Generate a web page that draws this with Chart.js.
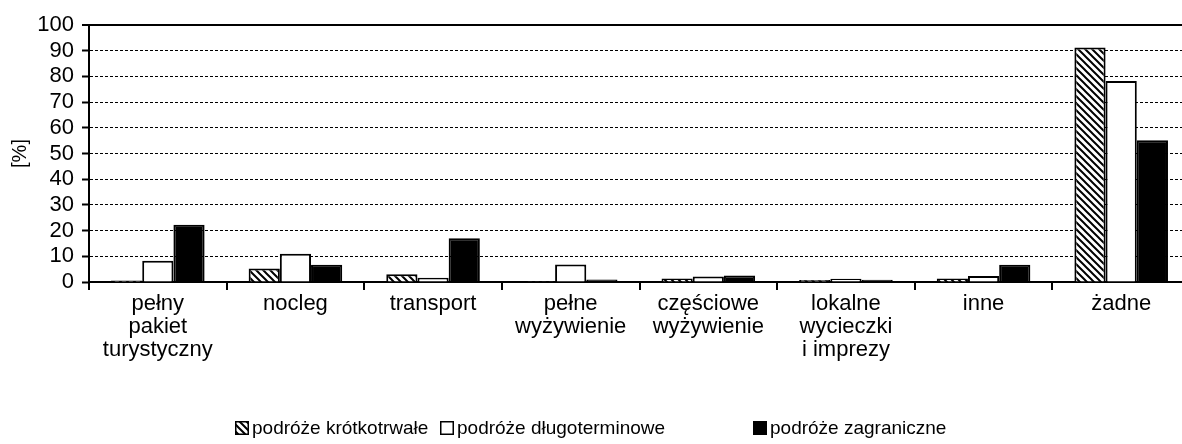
<!DOCTYPE html>
<html><head><meta charset="utf-8">
<script src="https://cdn.jsdelivr.net/npm/chart.js@4/dist/chart.umd.min.js"></script>
<style>
html,body{margin:0;padding:0;background:#fff;overflow:hidden;width:1182px;height:444px}
#wrap{width:1192px;height:444px;position:relative}
canvas{display:block}
</style></head>
<body><div id="wrap"><canvas id="c" width="1192" height="444"></canvas></div>
<script>
const categories = [["pełny","pakiet","turystyczny"],"nocleg","transport",["pełne","wyżywienie"],["częściowe","wyżywienie"],["lokalne","wycieczki","i imprezy"],"inne","żadne"];
const seriesNames = ["podróże krótkotrwałe","podróże długoterminowe","podróże zagraniczne"];
const shortTrips = [0.6, 5.3, 3.0, 0.3, 1.4, 0.8, 1.4, 91.2];
const longTrips = [8.3, 11.0, 1.7, 6.8, 2.1, 1.3, 2.3, 78.2];
const foreignTrips = [22.3, 6.7, 17.0, 1.0, 2.5, 0.9, 6.7, 55.2];
const yTickValues = [0,10,20,30,40,50,60,70,80,90,100];
const yTitle = "[%]";

const FONT = "'Liberation Sans', Arial, sans-serif";
const FS = 22;
const LFS = 19;

function hatchPattern(){
  const s = 7;
  const c = document.createElement('canvas'); c.width = s; c.height = s;
  const g = c.getContext('2d');
  g.fillStyle = '#fff'; g.fillRect(0,0,s,s);
  g.strokeStyle = '#000'; g.lineWidth = 2;
  g.beginPath();
  g.moveTo(-2,-2); g.lineTo(s+2,s+2);
  g.moveTo(-2,s-2); g.lineTo(2,s+2);
  g.moveTo(s-2,-2); g.lineTo(s+2,2);
  g.stroke();
  return g.createPattern(c,'repeat');
}
const hatch = hatchPattern();

const legendX = [235, 440, 753];
const customLegend = {
  id:'customLegend',
  afterDraw(chart){
    const ctx = chart.ctx;
    ctx.save();
    ctx.font = LFS + "px " + FONT;
    ctx.textBaseline = 'middle';
    const yc = 428;
    chart.data.datasets.forEach((ds,i)=>{
      const x = legendX[i];
      const b = 14;
      ctx.fillStyle = ds.backgroundColor;
      ctx.fillRect(x, yc-b/2, b, b);
      ctx.lineWidth = 1.5; ctx.strokeStyle = '#000';
      ctx.strokeRect(x+0.75, yc-b/2+0.75, b-1.5, b-1.5);
      ctx.fillStyle = '#000';
      ctx.fillText(ds.label, x+b+3, yc+1);
    });
    ctx.restore();
  }
};

new Chart(document.getElementById('c'), {
  type:'bar',
  data:{
    labels: categories,
    datasets:[
      {label:seriesNames[0], data:shortTrips, backgroundColor:hatch, borderColor:'#000', borderWidth:2},
      {label:seriesNames[1], data:longTrips, backgroundColor:'#fff', borderColor:'#000', borderWidth:2},
      {label:seriesNames[2], data:foreignTrips, backgroundColor:'#000', borderColor:'#000', borderWidth:2}
    ]
  },
  options:{
    responsive:false,
    animation:false,
    devicePixelRatio:1,
    layout:{padding:{top:25,right:2,left:0,bottom:0}},
    datasets:{bar:{categoryPercentage:0.68, barPercentage:1}},
    plugins:{legend:{display:false}, tooltip:{enabled:false}},
    scales:{
      x:{
        grid:{display:true, drawOnChartArea:false, offset:true, drawTicks:true, tickLength:8, tickColor:'#000', tickWidth:2, color:'#000', lineWidth:2},
        border:{display:true, color:'#000', width:2},
        ticks:{color:'#000', font:{family:FONT, size:FS, lineHeight:1.06}, padding:2, maxRotation:0, autoSkip:false},
        afterFit(s){ s.height = 444 - 282; }
      },
      y:{
        min:0, max:100,
        afterBuildTicks(s){ s.ticks = yTickValues.map(v=>({value:v})); },
        grid:{
          color:(c)=> c.tick && c.tick.value===0 ? 'rgba(0,0,0,0)' : '#000',
          lineWidth:(c)=> c.tick && c.tick.value===100 ? 2 : 1,
          drawTicks:true, tickLength:7, tickColor:'#000', tickWidth:2
        },
        border:{display:true, color:'#000', width:2, dash:(c)=> c.tick && c.tick.value===100 ? [] : [3,2]},
        ticks:{color:'#000', font:{family:FONT, size:FS}, padding:8, autoSkip:false},
        title:{display:true, text:yTitle, color:'#000', font:{family:FONT, size:20}, padding:{top:8,bottom:0}},
        afterFit(s){ s.width = 89; }
      }
    }
  },
  plugins:[customLegend]
});
</script>
</body></html>
